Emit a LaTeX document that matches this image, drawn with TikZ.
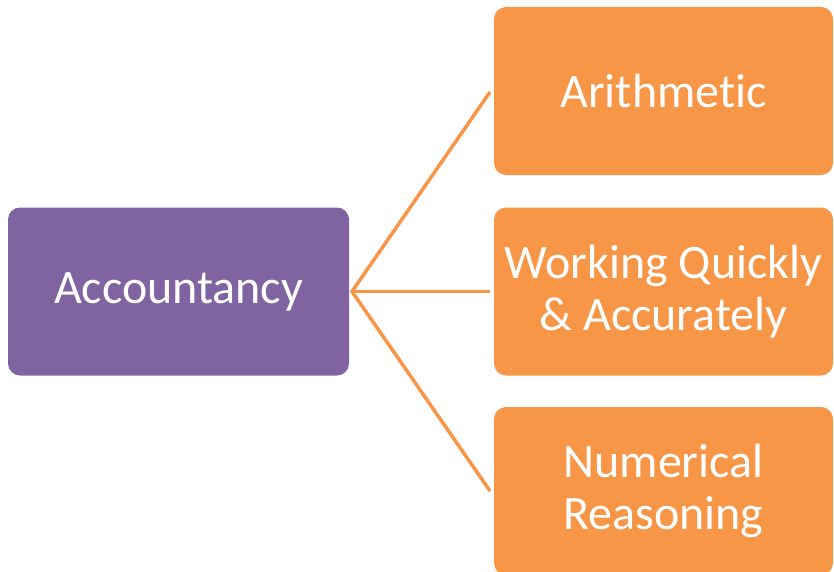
\documentclass[tikz,border=0pt]{standalone}
\usepackage{fontspec}
\setmainfont[Ligatures={NoCommon,NoRequired,NoContextual}]{Carlito}
\definecolor{accpurple}{HTML}{8064A2}
\definecolor{accorange}{HTML}{F79646}
\begin{document}
\begin{tikzpicture}[x=1pt,y=-1pt,
  box/.style={rounded corners=12pt, inner sep=0pt, align=center, text=white,
    font=\fontsize{48}{52}\selectfont},
  mainbox/.style={box, fill=accpurple, minimum width=341pt, minimum height=168pt},
  subbox/.style={box, fill=accorange, minimum width=339pt, minimum height=168pt},
  link/.style={draw=accorange, line width=3.5pt}]
\useasboundingbox (0,0) rectangle (834,572);
\clip (0,0) rectangle (834,572);
\node[mainbox] (acc) at (178.5,291.5) {Accountancy};
\node[subbox] (ari) at (663.5,91) {Arithmetic};
\node[subbox] (wqa) at (663.5,291.5) {Working Quickly\\\& Accurately};
\node[subbox] (num) at (663.5,491) {Numerical\\Reasoning};
\coordinate (hub) at (352,291.5);
\coordinate (e1) at (490,92);
\coordinate (e2) at (490,291.5);
\coordinate (e3) at (490,491);
\draw[link] (e1) -- (hub) -- (e3);
\draw[link] (hub) -- (e2);
\end{tikzpicture}
\end{document}
